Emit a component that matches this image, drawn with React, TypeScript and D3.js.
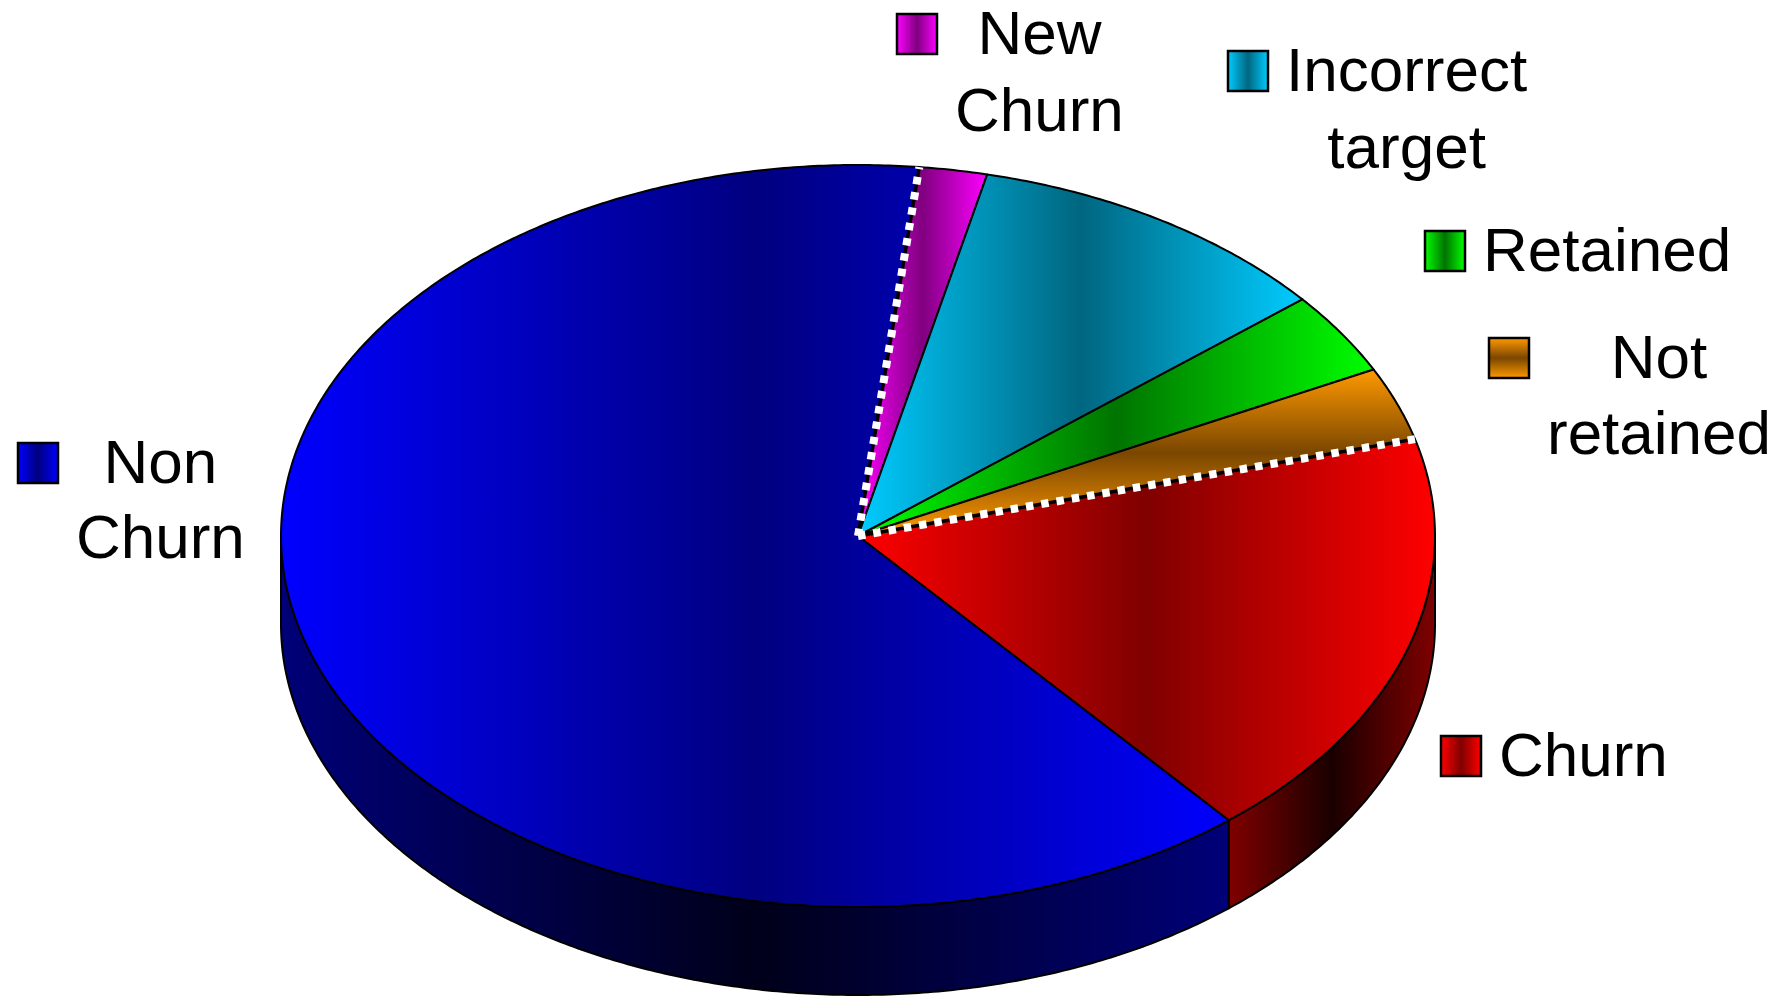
import React, { useMemo } from "react";
import * as d3 from "d3";

// ---- data ----
const categories = ["New Churn", "Incorrect target", "Retained", "Not retained", "Churn", "Non Churn"];
const values = [1.9, 10.4, 3.6, 3.2, 18.1, 62.8];
const labelLines = [["New", "Churn"], ["Incorrect", "target"], ["Retained"], ["Not", "retained"], ["Churn"], ["Non", "Churn"]];
const brightColors = ["#FF00FF", "#00CCFF", "#00FF00", "#FF9900", "#FF0000", "#0000FF"];
const darkColors = ["#800080", "#006680", "#007400", "#7A4600", "#800000", "#000080"];
const sideEdgeColors = ["#700070", "#005a70", "#006000", "#6a3c00", "#800000", "#000078"];
const sideMidColors = ["#150015", "#001015", "#001500", "#150a00", "#1a0000", "#00001a"];
const gradientDir = ["h", "h", "h", "v", "h", "h"];
const dottedBoundaries = ["New Churn", "Churn"]; // white dotted line at start of these slices

// ---- layout ----
const W = 1789, H = 997;
const cx = 858, cy = 536, rx = 577, ry = 371, depth = 88;
const startDeg = 6.1;
const FONT = 62;
const labelAnchors = [
  { keyX: 897, baseline: 54, lh: 77 },
  { keyX: 1228, baseline: 91, lh: 77 },
  { keyX: 1425, baseline: 271, lh: 77 },
  { keyX: 1489, baseline: 378, lh: 76 },
  { keyX: 1441, baseline: 776, lh: 76 },
  { keyX: 18, baseline: 483, lh: 75 },
];
const KEY = 40, KEY_GAP = 18;

const pt = (a: number, dy = 0): [number, number] => [cx + rx * Math.sin(a), cy - ry * Math.cos(a) + dy];

function arcPts(a0: number, a1: number, dy = 0): [number, number][] {
  const n = Math.max(2, Math.ceil(Math.abs(a1 - a0) / (Math.PI / 360)));
  const s = d3.scaleLinear().domain([0, n]).range([a0, a1]);
  return d3.range(n + 1).map((i) => pt(s(i), dy));
}

const line = d3.line<[number, number]>();

export default function App() {
  const data = categories.map((c, i) => ({ name: c, value: values[i], i }));
  const start = (startDeg * Math.PI) / 180;
  const arcs = d3.pie<any>().sort(null).value((d) => d.value).startAngle(start).endAngle(start + 2 * Math.PI)(data);

  const widths = useMemo(() => {
    const ctx = document.createElement("canvas").getContext("2d")!;
    ctx.font = `${FONT}px "Liberation Sans", Arial, sans-serif`;
    return labelLines.map((ls) => ls.map((l) => ctx.measureText(l).width));
  }, []);

  // sides (front half: PI/2 .. 3PI/2, modulo 2PI)
  const sides: { d: string; i: number }[] = [];
  arcs.forEach((a) => {
    for (const k of [-1, 0, 1]) {
      const lo = Math.max(a.startAngle, Math.PI / 2 + 2 * Math.PI * k);
      const hi = Math.min(a.endAngle, (3 * Math.PI) / 2 + 2 * Math.PI * k);
      if (hi > lo) {
        const top = arcPts(lo, hi, 0);
        const bot = arcPts(hi, lo, depth);
        sides.push({ d: line([...top, ...bot])! + "Z", i: a.data.i });
      }
    }
  });

  return (
    <svg width={W} height={H} style={{ position: "fixed", left: 0, top: 0, background: "#fff" }}>
      <defs>
        {categories.map((c, i) => (
          <linearGradient key={"g" + i} id={"top" + i} x1="0" y1="0" x2={gradientDir[i] === "h" ? 1 : 0} y2={gradientDir[i] === "h" ? 0 : 1}>
            <stop offset="0" stopColor={brightColors[i]} />
            <stop offset="0.5" stopColor={darkColors[i]} />
            <stop offset="1" stopColor={brightColors[i]} />
          </linearGradient>
        ))}
        {categories.map((c, i) => (
          <linearGradient key={"s" + i} id={"side" + i} x1="0" y1="0" x2="1" y2="0">
            <stop offset="0" stopColor={sideEdgeColors[i]} />
            <stop offset="0.5" stopColor={sideMidColors[i]} />
            <stop offset="1" stopColor={sideEdgeColors[i]} />
          </linearGradient>
        ))}
      </defs>

      {sides.map((s, k) => (
        <path key={"side" + k} d={s.d} fill={`url(#side${s.i})`} stroke="#000" strokeWidth={2} strokeLinejoin="round" />
      ))}

      {arcs.map((a) => {
        const pts = [[cx, cy] as [number, number], ...arcPts(a.startAngle, a.endAngle)];
        return (
          <path key={"top" + a.data.i} d={line(pts)! + "Z"} fill={`url(#top${a.data.i})`} stroke="#000" strokeWidth={2} strokeLinejoin="round" />
        );
      })}

      {arcs
        .filter((a) => dottedBoundaries.includes(a.data.name))
        .map((a) => {
          const [x2, y2] = pt(a.startAngle);
          return (
            <g key={"dot" + a.data.i}>
              <line x1={cx} y1={cy} x2={x2} y2={y2} stroke="#000" strokeWidth={3.5} />
              <line x1={cx} y1={cy} x2={x2} y2={y2} stroke="#fff" strokeWidth={8} strokeDasharray="7.5 8" />
            </g>
          );
        })}

      {categories.map((c, i) => {
        const an = labelAnchors[i];
        const ws = widths[i];
        const maxW = Math.max(...ws);
        const tx = an.keyX + KEY + KEY_GAP + maxW / 2;
        return (
          <g key={"lab" + i}>
            <rect x={an.keyX} y={an.baseline - KEY} width={KEY} height={KEY} fill={`url(#top${i})`} stroke="#000" strokeWidth={2.5} />
            {labelLines[i].map((l, j) => (
              <text key={j} x={tx} y={an.baseline + j * an.lh} textAnchor="middle" fontFamily='"Liberation Sans", Arial, sans-serif' fontSize={FONT} fill="#000">
                {l}
              </text>
            ))}
          </g>
        );
      })}
    </svg>
  );
}
